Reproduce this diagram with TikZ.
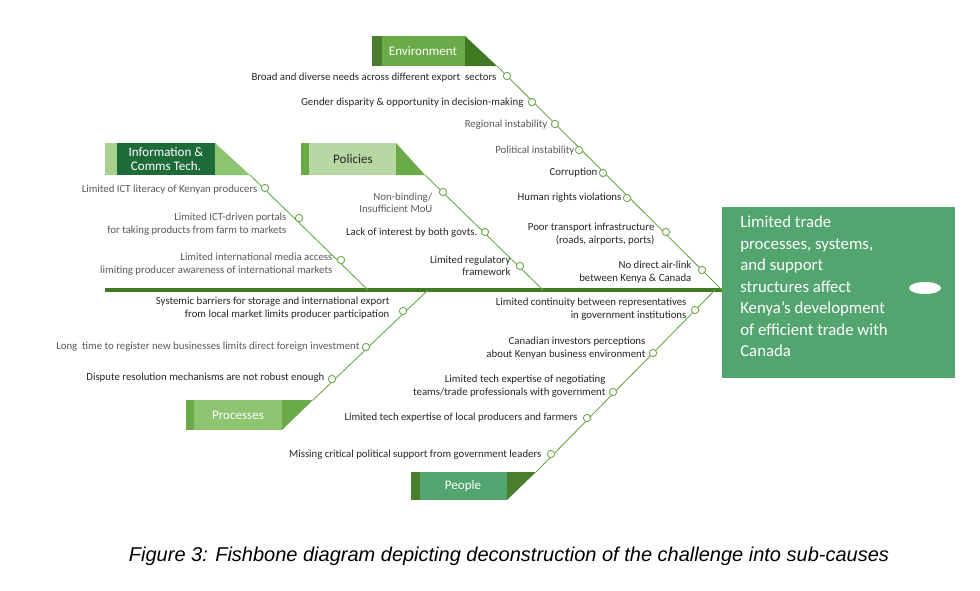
\documentclass[tikz,border=0pt]{standalone}
\usepackage{fontspec}
\usetikzlibrary{shapes.geometric}
\setmainfont{Carlito}
\newfontfamily\capfont{Liberation Sans}
\begin{document}
\definecolor{spine}{HTML}{3F7A22}
\definecolor{bone}{HTML}{6FA84F}
\definecolor{headg}{HTML}{52A56F}
\definecolor{darkg}{HTML}{4B7E2C}
\definecolor{midg}{HTML}{6AAA48}
\definecolor{lightg}{HTML}{B7D7A3}
\definecolor{paleg}{HTML}{A9D18E}
\definecolor{forest}{HTML}{1E6B3A}
\definecolor{softg}{HTML}{8CC46F}
\definecolor{txt}{HTML}{262626}
\definecolor{gtxt}{HTML}{595959}
\begin{tikzpicture}[x=0.75pt,y=-0.75pt,
  bonel/.style={draw=bone,line width=0.7pt},
  dot/.style={circle,draw=bone,fill=white,line width=0.7pt,inner sep=0pt,minimum size=5.5pt},
  lab/.style={font=\fontsize{8.1}{9.4}\selectfont,text=txt,align=right,anchor=east,inner sep=1pt},
  glab/.style={lab,text=gtxt},
  cat/.style={font=\fontsize{9.8}{11}\selectfont,align=center,inner sep=0pt}]
\useasboundingbox (0,0) rectangle (980,590);
% head
\fill[headg] (722,207) rectangle (955,378);
\node[fill=white,ellipse,minimum width=24pt,minimum height=9pt,inner sep=0pt] (eye) at (925,288) {};
\node[anchor=north west,text=white,align=left,font=\fontsize{12.6}{16.1}\selectfont,inner sep=0pt] (head) at (740,216)
 {Limited trade\\processes, systems,\\and support\\structures affect\\Kenya’s development\\of efficient trade with\\Canada};
% spine
\coordinate (s0) at (105,290); \coordinate (s1) at (722,290);
\draw[spine,line width=3pt] (s0) -- (s1);
% Environment
\fill[darkg] (372,36) rectangle (382,66);
\fill[midg] (382,36) rectangle (465,66);
\fill[spine] (465,36) -- (465,66) -- (497,66) -- cycle;
\node[cat,text=white] (env) at (423,51) {Environment};
\coordinate (e0) at (497,66); \coordinate (e1) at (722,290);
\draw[bonel] (e0) -- (e1);
\foreach \p in {(507,76),(532,102),(555,124),(579,150),(603,173),(627,198),(666,232),(702,270)} \node[dot] at \p {};
\node[lab] at (498,78) {Broad and diverse needs across different export\ \ sectors};
\node[lab] at (525,103) {Gender disparity \& opportunity in decision-making};
\node[glab] at (549,125) {Regional instability};
\node[glab] at (576,151) {Political instability};
\node[lab] at (599,173) {Corruption};
\node[lab] at (623,198) {Human rights violations};
\node[lab] at (656,234) {Poor transport infrastructure\\(roads, airports, ports)};
\node[lab] at (693,272) {No direct air-link\\between Kenya \& Canada};
% Information
\fill[paleg] (105,143) rectangle (117,175);
\fill[forest] (117,143) rectangle (215,175);
\fill[softg] (215,143) -- (215,175) -- (250,175) -- cycle;
\node[cat,text=white] (ict) at (166,159) {Information \&\\Comms Tech.};
\coordinate (i0) at (250,175); \coordinate (i1) at (368,290);
\draw[bonel] (i0) -- (i1);
\foreach \p in {(265,188),(299,218),(341,260)} \node[dot] at \p {};
\node[glab] at (259,190) {Limited ICT literacy of Kenyan producers};
\node[glab] at (288,224) {Limited ICT-driven portals\\for taking products from farm to markets};
\node[glab] at (334,264) {Limited international media access\\limiting producer awareness of international markets};
% Policies
\fill[midg] (301,143) rectangle (309,175);
\fill[lightg] (309,143) rectangle (396,175);
\fill[midg] (396,143) -- (396,175) -- (425,175) -- cycle;
\node[cat,text=txt] (pol) at (353,159) {Policies};
\coordinate (p0) at (425,175); \coordinate (p1) at (543,290);
\draw[bonel] (p0) -- (p1);
\foreach \p in {(443,192),(485,232),(520,266)} \node[dot] at \p {};
\node[glab] at (434,203) {Non-binding/\\Insufficient MoU};
\node[lab] at (479,233) {Lack of interest by both govts.};
\node[lab] at (512,266) {Limited regulatory\\framework};
% Processes
\fill[midg] (186,400) rectangle (194,430);
\fill[softg] (194,400) rectangle (282,430);
\fill[midg] (282,400) -- (282,430) -- (313,400) -- cycle;
\node[cat,text=white] (proc) at (238,415) {Processes};
\coordinate (r0) at (313,400); \coordinate (r1) at (428,290);
\draw[bonel] (r0) -- (r1);
\foreach \p in {(403,311),(366,347),(332,379)} \node[dot] at \p {};
\node[lab] at (391,308) {Systemic barriers for storage and international export\\from local market limits producer participation};
\node[glab] at (361,347) {Long\ \ time to register new businesses limits direct foreign investment};
\node[lab] at (326,378) {Dispute resolution mechanisms are not robust enough};
% People
\fill[darkg] (411,472) rectangle (420,500);
\fill[headg] (420,472) rectangle (507,500);
\fill[darkg] (507,472) -- (507,500) -- (536,472) -- cycle;
\node[cat,text=white] (peo) at (463,486) {People};
\coordinate (q0) at (536,472); \coordinate (q1) at (715,290);
\draw[bonel] (q0) -- (q1);
\foreach \p in {(695,310),(653,353),(613,392),(587,418),(551,454)} \node[dot] at \p {};
\node[lab] at (688,309) {Limited continuity between representatives\\in government institutions};
\node[lab] at (647,348) {Canadian investors perceptions\\about Kenyan business environment};
\node[lab] at (607,386) {Limited tech expertise of negotiating\\teams/trade professionals with government};
\node[lab] at (579,418) {Limited tech expertise of local producers and farmers};
\node[lab] at (543,455) {Missing critical political support from government leaders};
% caption
\node[font=\capfont\itshape\fontsize{15}{17}\selectfont,text=black] (cap) at (509,556) {Figure 3: Fishbone diagram depicting deconstruction of the challenge into sub-causes};
\end{tikzpicture}
\end{document}
